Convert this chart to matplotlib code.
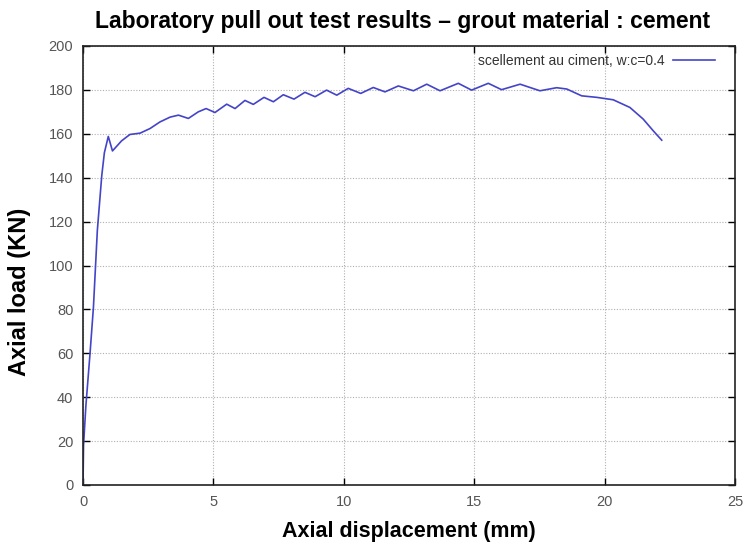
import matplotlib
matplotlib.use("Agg")
import matplotlib.pyplot as plt

plt.rcParams['font.family'] = ['Liberation Sans', 'DejaVu Sans']

displacement = [0.0, 0.02, 0.11, 0.27, 0.40, 0.55, 0.72, 0.82, 0.97, 1.13, 1.48, 1.80, 2.19,
                2.57, 2.95, 3.34, 3.66, 4.04, 4.42, 4.72, 5.06, 5.51, 5.83, 6.21, 6.53,
                6.94, 7.30, 7.68, 8.09, 8.51, 8.90, 9.34, 9.73, 10.17, 10.65, 11.13, 11.58,
                12.09, 12.67, 13.18, 13.69, 14.39, 14.90, 15.54, 16.05, 16.76, 17.52,
                18.16, 18.55, 19.12, 19.70, 20.33, 20.97, 21.48, 21.87, 22.19]
load = [0.0, 18.0, 36.0, 60.0, 81.0, 116.0, 141.0, 151.4, 158.8, 152.2, 156.8, 159.7, 160.3,
        162.4, 165.4, 167.6, 168.5, 167.0, 170.0, 171.5, 169.7, 173.5, 171.5, 175.2, 173.4,
        176.6, 174.6, 177.8, 175.8, 178.9, 176.9, 179.9, 177.6, 180.7, 178.4, 181.1, 179.1,
        181.8, 179.6, 182.6, 179.6, 183.0, 179.9, 183.0, 180.1, 182.6, 179.6,
        181.0, 180.4, 177.3, 176.6, 175.5, 172.0, 166.7, 161.3, 157.1]

series_label = "scellement au ciment, w:c=0.4"
title = "Laboratory pull out test results \u2013 grout material : cement"
xlabel = "Axial displacement (mm)"
ylabel = "Axial load (KN)"
xticks = [0, 5, 10, 15, 20, 25]
yticks = list(range(0, 201, 20))

fig = plt.figure(figsize=(7.44, 5.44), dpi=100)
ax = fig.add_axes([83/744, 59/544, 652/744, 439/544])

ax.plot(displacement, load, color="#4444c8", lw=1.2, label=series_label)

ax.set_xlim(0, 25)
ax.set_ylim(0, 200)
ax.set_xticks(xticks)
ax.set_yticks(yticks)
ax.grid(True, color="#b0b0b0", linestyle=(0, (1, 1.5)), lw=0.8)
ax.tick_params(direction="in", top=True, right=True, length=5, width=1,
               labelsize=10.5, labelcolor="#555555", pad=7)
for s in ax.spines.values():
    s.set_linewidth(1.2)
    s.set_color("#222222")

fig.text(403/744, 1 - 28/544, title, fontsize=16.5, fontweight="bold",
         ha="center", va="baseline")
ax.set_xlabel(xlabel, fontsize=15.5, fontweight="bold", labelpad=9)
ax.set_ylabel(ylabel, fontsize=17, fontweight="bold", ha="center", va="center")
ax.yaxis.set_label_coords(-0.097, 0.44)

leg = ax.legend(loc="center right", bbox_to_anchor=(0.969, 0.966), frameon=False,
                markerfirst=False, fontsize=10, handlelength=3.0,
                borderaxespad=0, borderpad=0, handletextpad=0.6)
for t in leg.get_texts():
    t.set_color("#333333")

fig.savefig("out.png", dpi=100)
